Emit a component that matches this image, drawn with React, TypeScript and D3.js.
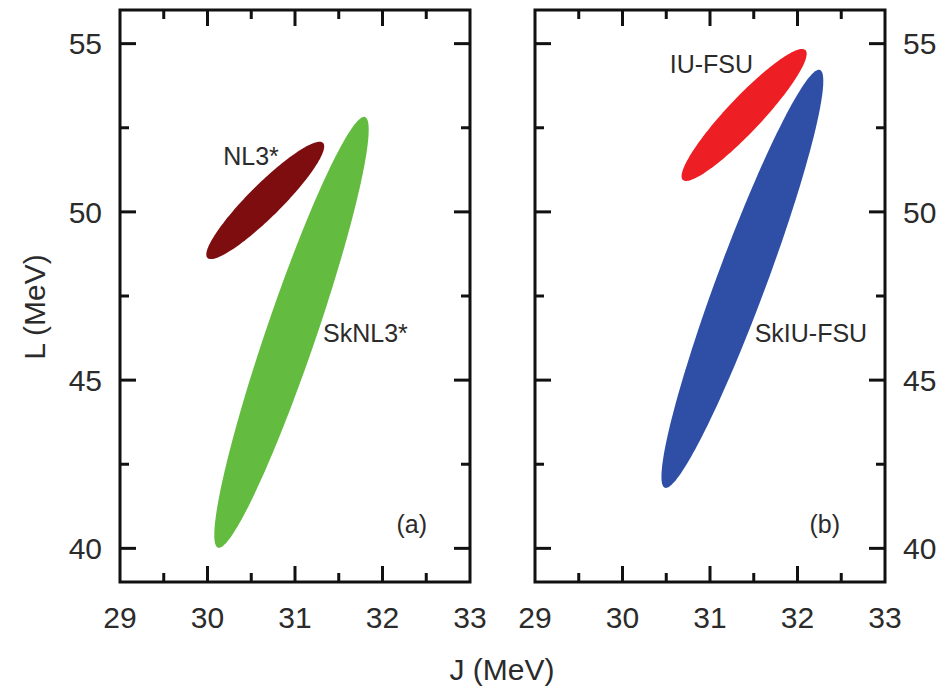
import React from "react";
import * as d3 from "d3";

// ---- data ----
const panelTags = ["(a)", "(b)"];
const xTicks = [29, 30, 31, 32, 33];
const xMinor = [29.5, 30.5, 31.5, 32.5];
const yTicks = [40, 45, 50, 55];
const yMinor = [42.5, 47.5, 52.5];

const ellipseNames = ["NL3*", "SkNL3*", "IU-FSU", "SkIU-FSU"];
const ellipsePanel = [0, 0, 1, 1];
const centerJ = [30.66, 30.96, 31.39, 31.37];
const centerL = [50.34, 46.42, 52.88, 48.01];
const majorJ = [0.66, 0.84, 0.7, 0.886];
const majorL = [1.71, 6.4, 1.93, 6.21];
const minorJ = [0.135, 0.27, 0.145, 0.265];
const minorL = [-0.34, -0.235, -0.35, -0.25];
const labelJ = [30.18, 31.32, 30.54, 31.51];
const labelL = [51.39, 46.13, 54.13, 46.13];

const ellipseColors = ["#7e0d10", "#63bc3f", "#ee1f24", "#2f4fa7"];

const W = 950;
const H = 692;
const panelLeft = [120, 535];
const panelWidth = 350;
const top = 10;
const bottom = 582;
const font = "'Liberation Sans', Arial, Helvetica, sans-serif";
const textColor = "#2b2b2b";

function Panel({ idx }: { idx: number }) {
  const x = d3.scaleLinear().domain([29, 33]).range([panelLeft[idx], panelLeft[idx] + panelWidth]);
  const y = d3.scaleLinear().domain([39, 56]).range([bottom, top]);
  const x0 = x.range()[0];
  const x1 = x.range()[1];
  const sw = 3;
  const major = 16;
  const minor = 9;

  const line = d3
    .line<[number, number]>()
    .x((d) => x(d[0]))
    .y((d) => y(d[1]))
    .curve(d3.curveLinearClosed);

  const ellipses = ellipseNames
    .map((name, i) => ({ name, i }))
    .filter((e) => ellipsePanel[e.i] === idx);

  return (
    <g>
      {ellipses.map(({ i }) => {
        const pts: [number, number][] = d3.range(0, 180).map((k) => {
          const t = (k / 180) * 2 * Math.PI;
          return [
            centerJ[i] + majorJ[i] * Math.cos(t) + minorJ[i] * Math.sin(t),
            centerL[i] + majorL[i] * Math.cos(t) + minorL[i] * Math.sin(t),
          ];
        });
        return <path key={"e" + i} d={line(pts) || ""} fill={ellipseColors[i]} />;
      })}
      {ellipses.map(({ name, i }) => (
        <text
          key={"l" + i}
          x={x(labelJ[i])}
          y={y(labelL[i])}
          fontSize={25}
          fontFamily={font}
          fill={textColor}
        >
          {name}
        </text>
      ))}
      {/* frame */}
      <rect x={x0} y={top} width={x1 - x0} height={bottom - top} fill="none" stroke="#111" strokeWidth={sw} />
      {/* x ticks bottom and top */}
      {xTicks.slice(1, -1).map((t) => (
        <g key={"xt" + t}>
          <line x1={x(t)} x2={x(t)} y1={bottom} y2={bottom - major} stroke="#111" strokeWidth={sw} />
          <line x1={x(t)} x2={x(t)} y1={top} y2={top + major} stroke="#111" strokeWidth={sw} />
        </g>
      ))}
      {xMinor.map((t) => (
        <g key={"xm" + t}>
          <line x1={x(t)} x2={x(t)} y1={bottom} y2={bottom - minor} stroke="#111" strokeWidth={sw} />
          <line x1={x(t)} x2={x(t)} y1={top} y2={top + minor} stroke="#111" strokeWidth={sw} />
        </g>
      ))}
      {yTicks.map((t) => (
        <g key={"yt" + t}>
          <line x1={x0} x2={x0 + major} y1={y(t)} y2={y(t)} stroke="#111" strokeWidth={sw} />
          <line x1={x1} x2={x1 - major} y1={y(t)} y2={y(t)} stroke="#111" strokeWidth={sw} />
        </g>
      ))}
      {yMinor.map((t) => (
        <g key={"ym" + t}>
          <line x1={x0} x2={x0 + minor} y1={y(t)} y2={y(t)} stroke="#111" strokeWidth={sw} />
          <line x1={x1} x2={x1 - minor} y1={y(t)} y2={y(t)} stroke="#111" strokeWidth={sw} />
        </g>
      ))}
      {/* x tick labels */}
      {xTicks.map((t) => (
        <text
          key={"xl" + t}
          x={x(t)}
          y={628}
          textAnchor="middle"
          fontSize={30}
          fontFamily={font}
          fill={textColor}
        >
          {t}
        </text>
      ))}
      {/* y tick labels */}
      {yTicks.map((t) => (
        <text
          key={"yl" + t}
          x={idx === 0 ? x0 - 18 : x1 + 18}
          y={y(t)}
          dy="0.36em"
          textAnchor={idx === 0 ? "end" : "start"}
          fontSize={30}
          fontFamily={font}
          fill={textColor}
        >
          {t}
        </text>
      ))}
      <text
        x={x1 - (idx === 0 ? 43 : 45)}
        y={533}
        textAnchor="end"
        fontSize={25}
        fontFamily={font}
        fill={textColor}
      >
        {panelTags[idx]}
      </text>
    </g>
  );
}

export default function App() {
  return (
    <svg
      width={W}
      height={H}
      viewBox={`0 0 ${W} ${H}`}
      style={{ position: "absolute", left: 0, top: 0, background: "#fff" }}
    >
      <rect x={0} y={0} width={W} height={H} fill="#fff" />
      <Panel idx={0} />
      <Panel idx={1} />
      <text
        x={502}
        y={680}
        textAnchor="middle"
        fontSize={30}
        fontFamily={font}
        fill={textColor}
      >
        J (MeV)
      </text>
      <text
        transform="translate(45,307) rotate(-90)"
        textAnchor="middle"
        fontSize={30}
        fontFamily={font}
        fill={textColor}
      >
        L (MeV)
      </text>
    </svg>
  );
}
